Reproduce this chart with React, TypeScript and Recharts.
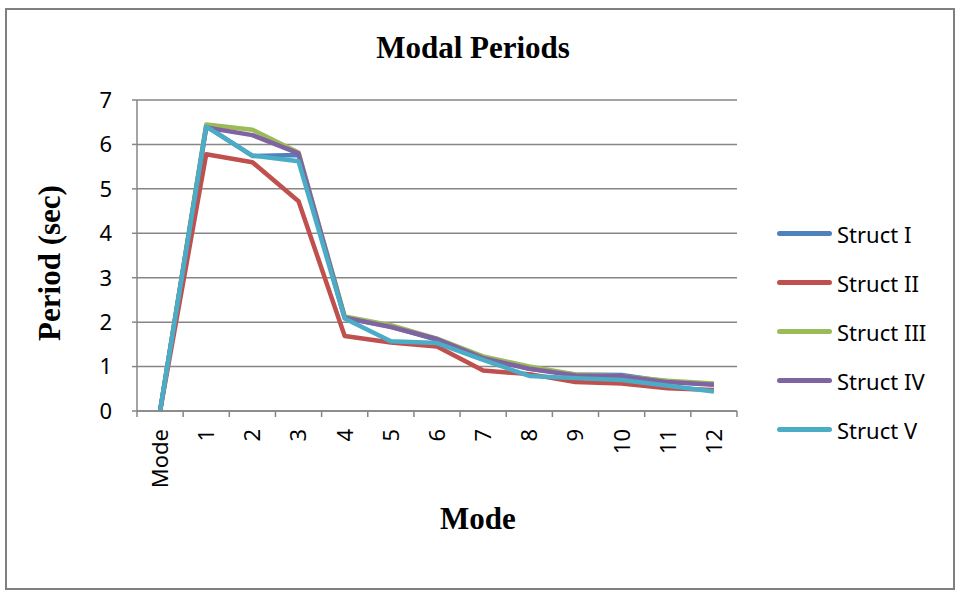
import React from 'react';
import { LineChart, Line, XAxis, YAxis, CartesianGrid, Legend } from 'recharts';

const categories = ['Mode', '1', '2', '3', '4', '5', '6', '7', '8', '9', '10', '11', '12'];
const structI = [0, 6.41, 5.74, 5.76, 2.1, 1.9, 1.6, 1.2, 0.95, 0.82, 0.81, 0.66, 0.6];
const structII = [0, 5.78, 5.6, 4.72, 1.69, 1.54, 1.45, 0.91, 0.83, 0.65, 0.62, 0.51, 0.47];
const structIII = [0, 6.45, 6.33, 5.82, 2.13, 1.93, 1.63, 1.23, 1.0, 0.82, 0.78, 0.68, 0.62];
const structIV = [0, 6.38, 6.21, 5.8, 2.1, 1.89, 1.62, 1.19, 0.95, 0.8, 0.78, 0.65, 0.59];
const structV = [0, 6.4, 5.75, 5.62, 2.08, 1.57, 1.53, 1.15, 0.79, 0.74, 0.7, 0.57, 0.44];
const seriesNames = ['Struct I', 'Struct II', 'Struct III', 'Struct IV', 'Struct V'];
const seriesValues = [structI, structII, structIII, structIV, structV];
const seriesColors = ['#4F81BD', '#C0504D', '#9BBB59', '#8064A2', '#4BACC6'];
const yTicks = [0, 1, 2, 3, 4, 5, 6, 7];

const data = categories.map((c, i) => {
  const row: Record<string, number | string> = { idx: i, label: c };
  seriesValues.forEach((vals, s) => {
    row['s' + s] = vals[i];
  });
  return row;
});

const xTicks: number[] = [];
for (let i = 0; i <= categories.length * 2; i++) xTicks.push(i / 2 - 0.5);

const axisColor = '#868686';
const sans = '"Noto Sans", "Open Sans", sans-serif';
const serif = '"Liberation Serif", "DejaVu Serif", serif';

const XTick = (props: any) => {
  const { x, y, payload } = props;
  const v = payload.value;
  if (Number.isInteger(v)) {
    return (
      <g transform={`translate(${x},${y + 12})`}>
        <text transform="rotate(-90)" textAnchor="end" dy="0.36em" fontSize={22} fontFamily={sans} fill="#000">
          {categories[v]}
        </text>
      </g>
    );
  }
  return <line x1={x} x2={x} y1={y - 6} y2={y} stroke={axisColor} strokeWidth={1.5} />;
};

const LegendContent = (props: any) => (
  <div>
    {(props.payload || []).map((e: any) => (
      <div key={e.value} style={{ display: 'flex', alignItems: 'center', height: 49 }}>
        <div style={{ width: 55, height: 4.5, background: e.color, borderRadius: 3 }} />
        <span style={{ marginLeft: 5, fontFamily: sans, fontSize: 22, color: '#000', lineHeight: '26px' }}>{e.value}</span>
      </div>
    ))}
  </div>
);

export default function App() {
  return (
    <div style={{ position: 'absolute', left: 0, top: 0, width: 960, height: 595, background: '#fff' }}>
      <div
        style={{
          position: 'absolute',
          left: 5,
          top: 8,
          width: 946,
          height: 578,
          border: '2px solid #7f7f7f',
        }}
      />
      <div
        style={{
          position: 'absolute',
          left: 0,
          top: 28,
          width: 946,
          textAlign: 'center',
          fontFamily: serif,
          fontWeight: 'bold',
          fontSize: 31,
          lineHeight: '40px',
          color: '#000',
        }}
      >
        Modal Periods
      </div>
      <div
        style={{
          position: 'absolute',
          left: 50,
          top: 263,
          transform: 'translate(-50%, -50%) rotate(-90deg)',
          whiteSpace: 'nowrap',
          fontFamily: serif,
          fontWeight: 'bold',
          fontSize: 31,
          lineHeight: '40px',
          color: '#000',
        }}
      >
        Period (sec)
      </div>
      <div
        style={{
          position: 'absolute',
          left: 378,
          top: 499,
          width: 200,
          textAlign: 'center',
          fontFamily: serif,
          fontWeight: 'bold',
          fontSize: 31,
          lineHeight: '40px',
          color: '#000',
        }}
      >
        Mode
      </div>
      <div style={{ position: 'absolute', left: 0, top: 0 }}>
        <LineChart
          width={960}
          height={595}
          data={data}
          margin={{ top: 100, right: 223, bottom: 124, left: 57 }}
        >
          <CartesianGrid vertical={false} stroke={axisColor} strokeWidth={1.5} />
          <XAxis
            dataKey="idx"
            type="number"
            domain={[-0.5, categories.length - 0.5]}
            ticks={xTicks}
            interval={0}
            height={60}
            tickSize={6}
            tickMargin={0}
            tickLine={{ stroke: 'none' }}
            axisLine={{ stroke: axisColor, strokeWidth: 1.5 }}
            tick={<XTick />}
          />
          <YAxis
            domain={[0, 7]}
            ticks={yTicks}
            interval={0}
            width={80}
            tickSize={5}
            tickMargin={20}
            tickLine={{ stroke: axisColor, strokeWidth: 1.5 }}
            axisLine={{ stroke: axisColor, strokeWidth: 1.5 }}
            tick={{ fontSize: 22, fontFamily: sans, fill: '#000' }}
          />
          {seriesNames.map((name, s) => (
            <Line
              key={name}
              type="linear"
              dataKey={'s' + s}
              name={name}
              stroke={seriesColors[s]}
              strokeWidth={4.5}
              strokeLinejoin="round"
              dot={false}
              activeDot={false}
              isAnimationActive={false}
            />
          ))}
          <Legend
            layout="vertical"
            align="center"
            verticalAlign="middle"
            content={<LegendContent />}
            wrapperStyle={{ left: 777, top: 209, width: 180, height: 245 }}
          />
        </LineChart>
      </div>
    </div>
  );
}
